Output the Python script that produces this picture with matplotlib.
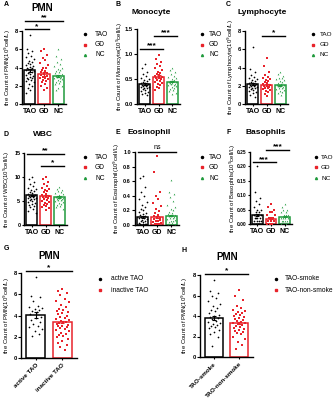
import matplotlib
matplotlib.use('Agg')
import matplotlib.pyplot as plt
from matplotlib.lines import Line2D

plt.rcParams['font.family'] = ['Liberation Sans', 'DejaVu Sans']

W, H = 336, 400
BLACK, RED, GREEN = '#000000', '#e8232b', '#1f9a3c'

# ---- data ----
groups3 = ['TAO', 'GD', 'NC']

pmn_tao = [7.6, 6.0, 5.8, 5.6, 5.3, 5.1, 4.9, 4.7, 4.6, 4.5, 4.4, 4.3, 4.2, 4.1, 4.0, 3.9, 3.8, 3.8, 3.7,
           3.6, 3.5, 3.5, 3.4, 3.3, 3.2, 3.1, 3.0, 2.9, 2.8, 2.7, 2.6, 2.5, 2.4, 2.2, 2.0, 1.8, 1.5, 1.2]
pmn_gd = [6.0, 5.8, 5.4, 5.0, 4.8, 4.5, 4.3, 4.0, 3.9, 3.7, 3.6, 3.5, 3.4, 3.3, 3.2, 3.1, 3.0, 2.9, 2.8,
          2.7, 2.6, 2.5, 2.4, 2.2, 2.0, 1.8, 1.5]
pmn_nc = [6.0, 5.3, 4.9, 4.6, 4.4, 4.2, 4.0, 3.8, 3.7, 3.6, 3.5, 3.4, 3.3, 3.2, 3.1, 3.0, 3.0, 2.9, 2.8,
          2.7, 2.6, 2.5, 2.4, 2.3, 2.2, 2.0, 1.8, 1.5]
pmn_means = [3.7, 3.3, 3.1]
pmn_sems = [0.15, 0.18, 0.12]

mono_tao = [0.80, 0.72, 0.65, 0.60, 0.56, 0.52, 0.50, 0.48, 0.46, 0.45, 0.43, 0.42, 0.41, 0.40, 0.39, 0.38,
            0.37, 0.36, 0.35, 0.34, 0.33, 0.32, 0.30, 0.28, 0.26, 0.24, 0.22, 0.20, 0.18]
mono_gd = [0.98, 0.90, 0.85, 0.80, 0.76, 0.72, 0.68, 0.65, 0.62, 0.60, 0.58, 0.56, 0.55, 0.54, 0.52, 0.50,
           0.48, 0.46, 0.44, 0.42, 0.40, 0.38, 0.35, 0.32, 0.28]
mono_nc = [0.72, 0.68, 0.64, 0.60, 0.57, 0.55, 0.53, 0.51, 0.49, 0.47, 0.46, 0.45, 0.44, 0.43, 0.42, 0.41,
           0.40, 0.39, 0.38, 0.36, 0.34, 0.32, 0.30, 0.28, 0.26, 0.23, 0.20]
mono_means = [0.40, 0.55, 0.45]
mono_sems = [0.015, 0.025, 0.015]

lym_tao = [6.3, 3.8, 3.5, 3.2, 3.0, 2.8, 2.7, 2.6, 2.5, 2.4, 2.3, 2.3, 2.2, 2.2, 2.1, 2.1, 2.0, 2.0, 1.9,
           1.9, 1.8, 1.7, 1.6, 1.5, 1.4, 1.3, 1.2, 1.0, 0.8]
lym_gd = [5.0, 4.2, 3.5, 3.2, 3.0, 2.8, 2.7, 2.6, 2.5, 2.4, 2.3, 2.2, 2.1, 2.0, 2.0, 1.9, 1.8, 1.7, 1.6,
          1.5, 1.4, 1.3, 1.1, 0.9]
lym_nc = [3.5, 3.3, 3.1, 2.9, 2.8, 2.7, 2.6, 2.5, 2.4, 2.3, 2.2, 2.1, 2.1, 2.0, 2.0, 1.9, 1.8, 1.7, 1.6,
          1.5, 1.4, 1.3, 1.2, 1.0]
lym_means = [2.2, 2.1, 2.05]
lym_sems = [0.08, 0.1, 0.07]

wbc_tao = [10.0, 9.5, 9.0, 8.5, 8.2, 7.8, 7.5, 7.2, 7.0, 6.8, 6.6, 6.4, 6.3, 6.2, 6.1, 6.0, 5.9, 5.8, 5.7,
           5.6, 5.5, 5.4, 5.2, 5.0, 4.8, 4.6, 4.4, 4.2, 4.0, 3.7, 3.4, 3.0, 2.6]
wbc_gd = [10.0, 9.6, 9.0, 8.6, 8.2, 7.8, 7.5, 7.2, 7.0, 6.8, 6.5, 6.3, 6.1, 6.0, 5.8, 5.6, 5.4, 5.2, 5.0,
          4.8, 4.6, 4.4, 4.2, 4.0, 3.8, 3.5, 3.2]
wbc_nc = [8.0, 7.6, 7.3, 7.0, 6.8, 6.6, 6.4, 6.2, 6.1, 6.0, 5.9, 5.8, 5.7, 5.6, 5.5, 5.4, 5.3, 5.2, 5.0,
          4.8, 4.6, 4.4, 4.2, 4.0, 3.7, 3.4]
wbc_means = [6.2, 6.1, 5.8]
wbc_sems = [0.15, 0.2, 0.15]

eos_tao = [0.67, 0.65, 0.52, 0.45, 0.40, 0.36, 0.32, 0.28, 0.25, 0.22, 0.20, 0.18, 0.16, 0.15, 0.14, 0.12,
           0.11, 0.10, 0.09, 0.08, 0.07, 0.06, 0.05, 0.04, 0.03, 0.02, 0.02, 0.01, 0.01, 0.0]
eos_gd = [0.95, 0.72, 0.45, 0.40, 0.35, 0.30, 0.26, 0.22, 0.19, 0.16, 0.14, 0.12, 0.10, 0.09, 0.08, 0.07,
          0.06, 0.05, 0.04, 0.03, 0.02, 0.02, 0.01, 0.01]
eos_nc = [0.62, 0.45, 0.42, 0.38, 0.33, 0.28, 0.25, 0.22, 0.20, 0.18, 0.16, 0.15, 0.14, 0.13, 0.12, 0.11,
          0.10, 0.09, 0.08, 0.07, 0.06, 0.05, 0.04, 0.03, 0.02, 0.01]
eos_means = [0.11, 0.11, 0.13]
eos_sems = [0.01, 0.015, 0.012]

baso_tao = [0.20, 0.11, 0.09, 0.08, 0.07, 0.06, 0.05, 0.05, 0.04, 0.04, 0.03, 0.03, 0.03, 0.02, 0.02, 0.02,
            0.02, 0.01, 0.01, 0.01, 0.01, 0.0, 0.0, 0.0]
baso_gd = [0.07, 0.06, 0.05, 0.04, 0.04, 0.03, 0.03, 0.02, 0.02, 0.02, 0.02, 0.01, 0.01, 0.01, 0.01, 0.01,
           0.0, 0.0, 0.0]
baso_nc = [0.07, 0.06, 0.05, 0.05, 0.04, 0.04, 0.03, 0.03, 0.03, 0.02, 0.02, 0.02, 0.02, 0.01, 0.01, 0.01,
           0.01, 0.0, 0.0]
baso_means = [0.03, 0.018, 0.025]
baso_sems = [0.003, 0.002, 0.002]

groups_act = ['active TAO', 'inactive TAO']
pmn_active = [7.6, 5.8, 5.7, 5.4, 4.9, 4.8, 4.7, 4.6, 4.5, 4.4, 4.3, 4.1, 3.9, 3.8, 3.6, 3.4, 3.2, 3.0,
              2.9, 2.7, 2.5, 2.3, 2.1]
pmn_inactive = [6.5, 6.3, 6.1, 5.9, 5.6, 5.4, 5.3, 5.0, 4.8, 4.6, 4.5, 4.4, 4.3, 4.2, 4.1, 4.0, 3.9, 3.8,
                3.7, 3.6, 3.5, 3.4, 3.3, 3.3, 3.2, 3.1, 3.0, 3.0, 2.9, 2.8, 2.7, 2.6, 2.5, 2.4, 2.3, 2.2,
                2.1, 2.0, 1.8, 1.6, 1.4, 1.2, 1.0, 0.8]
act_means = [4.05, 3.35]
act_sems = [0.25, 0.1]

groups_smoke = ['TAO-smoke', 'TAO-non-smoke']
pmn_smoke = [7.5, 6.4, 6.2, 6.0, 5.8, 5.5, 5.2, 5.0, 4.8, 4.6, 4.5, 4.3, 4.1, 4.0, 3.9, 3.8, 3.7, 3.5,
             3.4, 3.3, 3.2, 3.1, 3.0, 2.9, 2.8, 2.6, 2.4, 2.2, 2.0, 1.1]
pmn_nonsmoke = [6.5, 6.0, 5.6, 5.0, 4.8, 4.6, 4.5, 4.4, 4.3, 4.2, 4.1, 4.0, 3.9, 3.8, 3.7, 3.6, 3.5, 3.4,
                3.3, 3.3, 3.2, 3.1, 3.0, 2.9, 2.8, 2.7, 2.6, 2.5, 2.4, 2.3, 2.2, 2.0, 1.8, 1.5, 1.2, 0.8]
smoke_means = [3.8, 3.3]
smoke_sems = [0.2, 0.12]

fig = plt.figure(figsize=(3.36, 4.0), dpi=100)


def box(l, t, r, b):
    return [l / W, 1 - b / H, (r - l) / W, (b - t) / H]


def ftext(x, y, s, **kw):
    fig.text(x / W, 1 - y / H, s, **kw)


def spread(vals, width):
    pattern = [0, -0.6, 0.6, -0.3, 0.3, -0.9, 0.9, -0.15, 0.45, -0.45, 0.15, -0.75, 0.75]
    return [pattern[i % len(pattern)] * width / 2 for i in range(len(vals))]


def panel(rect, data, colors, markers, means, sems, ylim, yticks, ylabel, label_x, labels,
          rot=False, bw=0.78):
    l, t, r, b = rect
    ax = fig.add_axes(box(l, t, r, b))
    for i, vals in enumerate(data):
        c = colors[i]
        ax.bar(i, means[i], width=bw, facecolor='white', edgecolor=c, linewidth=1.1, zorder=1)
        offs = spread(vals, bw * 0.8)
        ax.scatter([i + o for o in offs], vals, s=1.5, c=c, marker=markers[i], linewidths=0, zorder=3)
        ax.errorbar(i, means[i], yerr=sems[i], color=c, capsize=1.5, lw=0.8, capthick=0.8, zorder=4)
    ax.set_xlim(-0.55, len(data) - 0.45)
    ax.set_ylim(*ylim)
    ax.set_yticks(yticks)
    ax.set_xticks(range(len(data)))
    if rot:
        ax.set_xticklabels(labels, rotation=45, ha='right', rotation_mode='anchor',
                           fontsize=4.5, fontweight='bold')
    else:
        ax.set_xticklabels(labels, fontsize=5, fontweight='bold')
    ax.tick_params(axis='y', labelsize=4.2, length=2, width=0.8, pad=1)
    ax.tick_params(axis='x', length=1.5, width=0.8, pad=1.5)
    for tl in ax.get_yticklabels():
        tl.set_fontweight('bold')
    for s in ['top', 'right']:
        ax.spines[s].set_visible(False)
    for s in ['left', 'bottom']:
        ax.spines[s].set_linewidth(1.0)
    ax.set_ylabel(ylabel, fontsize=4.3, va='center')
    ax.yaxis.set_label_coords((label_x - l) / (r - l), 0.5)
    return ax


def sig(ax, x1, x2, y, s, fs=6):
    ax.plot([x1 - 0.35, x2 + 0.35], [y, y], color='black', lw=1.0, clip_on=False)
    ax.annotate(s, ((x1 + x2) / 2, y), xytext=(0, -0.5), textcoords='offset points',
                ha='center', va='bottom', fontsize=fs, fontweight='bold', annotation_clip=False)


def legend(x, tx, y, names, colors, markers, gap=10.5, fs=4.8):
    for i, n in enumerate(names):
        yy = y + i * gap
        fig.add_artist(Line2D([x / W], [1 - yy / H], marker=markers[i], color=colors[i],
                              markersize=1.5, linestyle='none'))
        ftext(tx, yy, n, fontsize=fs, va='center')


c3 = [BLACK, RED, GREEN]
m3 = ['o', 's', '^']
c2 = [BLACK, RED]
m2 = ['o', 's']

# A
ax = panel((22, 31, 66, 104), [pmn_tao, pmn_gd, pmn_nc], c3, m3, pmn_means, pmn_sems,
           (0, 8), [0, 2, 4, 6, 8], 'the Count of PMN(10$^9$cell/L)', 8, groups3)
sig(ax, 0, 1, 8.2, '*')
sig(ax, 0, 2, 9.1, '**')
ftext(4, 4, 'A', fontsize=5, fontweight='bold', va='center')
ftext(42, 8, 'PMN', fontsize=7, fontweight='bold', ha='center', va='center')
legend(85, 95, 34, groups3, c3, m3)

# B
ax = panel((137, 29, 180, 104), [mono_tao, mono_gd, mono_nc], c3, m3, mono_means, mono_sems,
           (0, 1.5), [0.0, 0.5, 1.0, 1.5], 'the Count of Monocyte(10$^9$cell/L)', 120, groups3)
ax.set_yticklabels(['0.0', '0.5', '1.0', '1.5'], fontweight='bold')
sig(ax, 0, 1, 1.1, '***')
sig(ax, 1, 2, 1.36, '***')
ftext(115, 4, 'B', fontsize=5, fontweight='bold', va='center')
ftext(151, 12, 'Monocyte', fontsize=6, fontweight='bold', ha='center', va='center')
legend(202, 209, 34, groups3, c3, m3)

# C
ax = panel((245, 31, 288, 104), [lym_tao, lym_gd, lym_nc], c3, m3, lym_means, lym_sems,
           (0, 8), [0, 2, 4, 6, 8], 'the Count of Lymphocyte(10$^9$cell/L)', 231, groups3)
sig(ax, 1, 2, 7.45, '*')
ftext(226, 4, 'C', fontsize=5, fontweight='bold', va='center')
ftext(262, 12, 'Lymphocyte', fontsize=6, fontweight='bold', ha='center', va='center')
legend(313, 320, 34, groups3, c3, m3, fs=4.6)

# D
ax = panel((24, 153, 67, 225), [wbc_tao, wbc_gd, wbc_nc], c3, m3, wbc_means, wbc_sems,
           (0, 15), [0, 5, 10, 15], 'the Count of WBC(10$^9$cell/L)', 7, groups3)
ax.set_yticklabels(['0', '5', '10', '15'], fontweight='bold', fontsize=4.0)
ax.tick_params(axis='y', length=1.8, pad=0.8)
sig(ax, 0, 2, 14.8, '**')
sig(ax, 1, 2, 12.3, '*')
ftext(4, 135, 'D', fontsize=5, fontweight='bold', va='center')
ftext(43, 135, 'WBC', fontsize=6, fontweight='bold', ha='center', va='center')
legend(85, 95, 157, groups3, c3, m3)

# E
ax = panel((135, 152, 179, 225), [eos_tao, eos_gd, eos_nc], c3, m3, eos_means, eos_sems,
           (0, 1.0), [0.0, 0.2, 0.4, 0.6, 0.8, 1.0], 'the Count of Eosinophil(10$^9$cell/L)', 117, groups3)
ax.set_yticklabels(['0.0', '0.2', '0.4', '0.6', '0.8', '1.0'], fontweight='bold', fontsize=4.0)
ax.plot([0 - 0.35, 2 + 0.35], [1.0, 1.0], color='black', lw=1.0, clip_on=False)
ax.annotate('ns', (1, 1.0), xytext=(0, 1), textcoords='offset points', ha='center', va='bottom',
            fontsize=5, annotation_clip=False)
ftext(115, 133, 'E', fontsize=5, fontweight='bold', va='center')
ftext(149, 133, 'Eosinophil', fontsize=6, fontweight='bold', ha='center', va='center')
legend(202, 209, 157, groups3, c3, m3)

# F
ax = panel((250, 152, 292, 224), [baso_tao, baso_gd, baso_nc], c3, m3, baso_means, baso_sems,
           (0, 0.25), [0.0, 0.05, 0.10, 0.15, 0.20, 0.25], 'the Count of Basophils(10$^9$cell/L)', 233, groups3)
ax.set_yticklabels(['0.00', '0.05', '0.10', '0.15', '0.20', '0.25'], fontweight='bold', fontsize=3.5)
ax.tick_params(axis='y', length=1.5, pad=0.8)
sig(ax, 0, 1, 0.215, '***')
sig(ax, 1, 2, 0.257, '***')
ftext(226, 133, 'F', fontsize=5, fontweight='bold', va='center')
ftext(266, 133, 'Basophils', fontsize=6, fontweight='bold', ha='center', va='center')
legend(316, 321, 157, groups3, c3, m3, fs=4.6)

# G
ax = panel((21, 273, 77, 358), [pmn_active, pmn_inactive], c2, m2, act_means, act_sems,
           (0, 8), [0, 2, 4, 6, 8], 'the Count of PMN(10$^9$cell/L)', 7, groups_act, rot=True, bw=0.7)
sig(ax, 0, 1, 8.2, '*')
ftext(4, 248, 'G', fontsize=5, fontweight='bold', va='center')
ftext(49, 256, 'PMN', fontsize=7, fontweight='bold', ha='center', va='center')
legend(100, 111, 279, groups_act, c2, m2, gap=11)

# H
ax = panel((200, 275, 253, 357), [pmn_smoke, pmn_nonsmoke], c2, m2, smoke_means, smoke_sems,
           (0, 8), [0, 2, 4, 6, 8], 'the Count of PMN(10$^9$cell/L)', 185, groups_smoke, rot=True, bw=0.7)
sig(ax, 0, 1, 8.1, '*')
ftext(181, 250, 'H', fontsize=5, fontweight='bold', va='center')
ftext(227, 257, 'PMN', fontsize=7, fontweight='bold', ha='center', va='center')
legend(276, 285, 279, groups_smoke, c2, m2, gap=11)

fig.savefig('out.png', dpi=100)
